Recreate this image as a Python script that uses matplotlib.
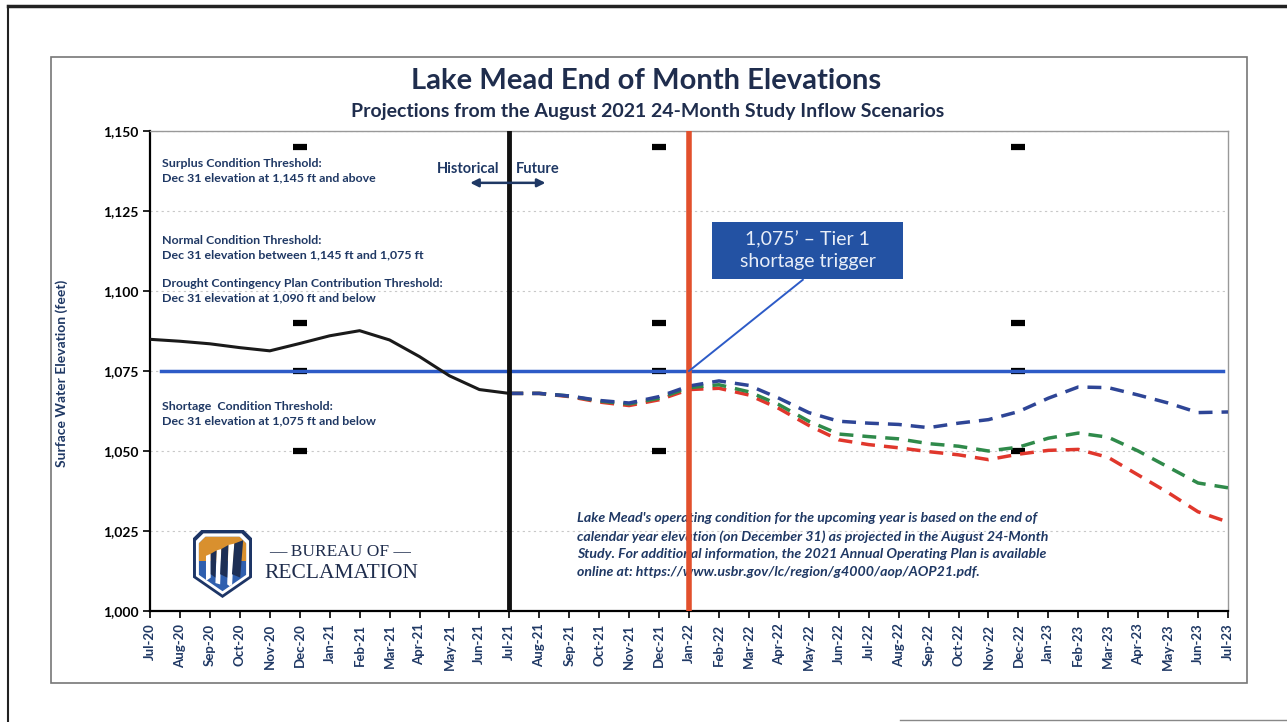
import numpy as np
import pandas as pd
import matplotlib
matplotlib.use("Agg")
import matplotlib.pyplot as plt
from matplotlib.patches import Rectangle, Polygon

plt.rcParams['font.family'] = ['Lato', 'DejaVu Sans']

# data
months = list(pd.date_range('2020-07-01', '2023-07-01', freq='MS').strftime('%b-%y'))

historical = [1084.9, 1084.3, 1083.5, 1082.3, 1081.3, 1083.6, 1086.0,
              1087.6, 1084.7, 1079.5, 1073.5, 1069.2, 1068.0]

prob_max = [1068.0, 1068.0, 1067.2, 1065.8, 1065.0, 1067.0, 1070.3, 1071.9,
            1070.5, 1066.5, 1062.0, 1059.3, 1058.7, 1058.3, 1057.3, 1058.7,
            1059.8, 1062.3, 1066.5, 1070.0, 1069.8, 1067.5, 1065.0, 1062.0, 1062.2]
most_prob = [1068.0, 1068.0, 1067.2, 1065.6, 1064.7, 1066.5, 1069.8, 1070.7,
             1068.5, 1064.5, 1059.3, 1055.3, 1054.5, 1053.8, 1052.3, 1051.5,
             1050.0, 1051.2, 1054.0, 1055.6, 1054.3, 1050.0, 1045.0, 1040.0, 1038.5]
prob_min = [1068.0, 1068.0, 1067.0, 1065.3, 1064.2, 1066.0, 1069.2, 1069.6,
            1067.5, 1063.3, 1058.0, 1053.5, 1052.0, 1051.0, 1049.8, 1048.8,
            1047.3, 1049.0, 1050.2, 1050.5, 1048.0, 1042.5, 1037.0, 1031.0, 1027.8]

tier1 = 1075
threshold_levels = [1145, 1090, 1075, 1050]
december_idx = [5, 17, 29]
now_idx = 12       # Jul-21, historical / future split
jan22_idx = 18

yticks = [1000, 1025, 1050, 1075, 1100, 1125, 1150]

navy = '#1f3864'
W, H = 1287, 722


def px(x, y):
    # pixel position -> figure fraction
    return x / W, 1 - y / H


fig = plt.figure(figsize=(12.87, 7.22), dpi=100)

# page frame bits
fig.add_artist(plt.Line2D([8 / W, 1], [1 - 6 / H] * 2, color='#222', lw=2.5))
fig.add_artist(plt.Line2D([8 / W] * 2, [0, 1 - 6 / H], color='#222', lw=1.5))
fig.add_artist(plt.Line2D([900 / W, 1], [1 - 720 / H] * 2, color='#888', lw=1))
x0, y0 = px(51, 683)
fig.add_artist(Rectangle((x0, y0), (1247 - 51) / W, (683 - 57) / H,
                         transform=fig.transFigure, fill=False, ec='#777', lw=1.2))

fig.text(*px(646, 81), 'Lake Mead End of Month Elevations', ha='center', va='center',
         fontsize=21, fontweight='bold', color='#1f2d4d')
fig.text(*px(648, 111), 'Projections from the August 2021 24-Month Study Inflow Scenarios',
         ha='center', va='center', fontsize=14, fontweight='bold', color='#1f2d4d')
fig.text(*px(62, 373), 'Surface Water Elevation (feet)', rotation=90, ha='center',
         va='center', fontsize=10, fontweight='bold', color=navy)

ax = fig.add_axes([150 / W, 1 - 611 / H, (1228 - 150) / W, (611 - 131) / H])
x_all = np.arange(len(months))

ax.set_xlim(0, len(months) - 1)
ax.set_ylim(1000, 1150)
ax.set_yticks(yticks)
ax.set_yticklabels([f'{v:,}' for v in yticks], fontsize=10, fontweight='bold')
ax.set_xticks(x_all)
ax.set_xticklabels(months, rotation=90, fontsize=9.5, fontweight='bold', color=navy)
ax.tick_params(axis='both', direction='out', length=5, width=1.2)
ax.tick_params(axis='x', pad=4)
ax.tick_params(axis='y', pad=3)
ax.yaxis.grid(True, color='#c8c8c8', linestyle=(0, (2, 3)), lw=0.8)
ax.set_axisbelow(True)
for s in ['left', 'bottom']:
    ax.spines[s].set_color('black')
    ax.spines[s].set_linewidth(1.6)
for s in ['top', 'right']:
    ax.spines[s].set_color('#999')
    ax.spines[s].set_linewidth(1.0)

# december threshold markers
for d in december_idx:
    ax.plot([d] * len(threshold_levels), threshold_levels, linestyle='none',
            marker='_', ms=10, mew=4.5, color='black', zorder=2)

ax.axhline(tier1, xmin=0.01, xmax=0.995, color='#2d5bc7', lw=2.5, zorder=3)

fut_x = x_all[now_idx:]
dash = (0, (4, 2.6))
ax.plot(fut_x, prob_min, color='#e0372c', lw=2.5, ls=dash, zorder=4)
ax.plot(fut_x, most_prob, color='#2f8a4a', lw=2.5, ls=dash, zorder=4)
ax.plot(fut_x, prob_max, color='#2e4596', lw=2.5, ls=dash, zorder=4)
ax.plot(x_all[:now_idx + 1], historical, color='#1a1a1a', lw=2.2, zorder=5)

ax.axvline(now_idx, color='#111', lw=3.5, zorder=6)
ax.axvline(jan22_idx, color='#e2502c', lw=4, zorder=7)

# threshold notes
notes = [
    (1137.5, 'Surplus Condition Threshold:\nDec 31 elevation at 1,145 ft and above'),
    (1113.6, 'Normal Condition Threshold:\nDec 31 elevation between 1,145 ft and 1,075 ft'),
    (1100.2, 'Drought Contingency Plan Contribution Threshold:\nDec 31 elevation at 1,090 ft and below'),
    (1061.6, 'Shortage  Condition Threshold:\nDec 31 elevation at 1,075 ft and below'),
]
for yv, txt in notes:
    ax.text(0.4, yv, txt, ha='left', va='center', fontsize=8.9, fontweight='bold',
            color=navy, linespacing=1.4, zorder=5)

ax.text(11.66, 1138.1, 'Historical', ha='right', va='center', fontsize=10.5,
        fontweight='bold', color=navy)
ax.text(12.22, 1138.1, 'Future', ha='left', va='center', fontsize=10.5,
        fontweight='bold', color=navy)
ax.annotate('', xy=(13.3, 1133.8), xytext=(10.6, 1133.8),
            arrowprops=dict(arrowstyle='<|-|>', color=navy, lw=1.8, mutation_scale=12),
            zorder=8)

# tier 1 callout
ax.add_patch(Rectangle((18.77, 1103.75), 6.38, 17.8, fc='#2352a3', ec='none', zorder=9))
ax.text(21.96, 1112.6, '1,075\u2019 \u2013 Tier 1\nshortage trigger', ha='center',
        va='center', fontsize=14, color='#e8eef8', linespacing=1.35, zorder=10)
ax.plot([21.8, jan22_idx], [1103.5, tier1], color='#2d5bc7', lw=1.4, zorder=8)

ax.text(14.26, 1020.6,
        "Lake Mead's operating condition for the upcoming year is based on the end of\n"
        "calendar year elevation (on December 31) as projected in the August 24-Month\n"
        "Study. For additional information, the 2021 Annual Operating Plan is available\n"
        "online at: https://www.usbr.gov/lc/region/g4000/aop/AOP21.pdf.",
        ha='left', va='center', fontsize=10.2, fontweight='bold', style='italic',
        color=navy, linespacing=1.55, zorder=5)

# reclamation logo
lx, ly = px(193, 598)
lg = fig.add_axes([lx, ly, 59 / W, 68 / H])
lg.set_xlim(0, 1)
lg.set_ylim(0, 1)
lg.axis('off')
shield = np.array([(0.14, 1), (0.86, 1), (1, 0.88), (1, 0.3), (0.5, 0),
                   (0, 0.3), (0, 0.88)])


def shrink(p, k):
    return (p - 0.5) * k + 0.5


lg.add_patch(Polygon(shield, fc='#1d3566', ec='none'))
lg.add_patch(Polygon(shrink(shield, 0.9), fc='white', ec='none'))
inner = Polygon(shrink(shield, 0.8), fc='#2f5fae', ec='none')
lg.add_patch(inner)
top = Rectangle((0, 0.55), 1, 0.5, fc='#d9902e', ec='none')
lg.add_patch(top)
top.set_clip_path(inner)
stripes = [[(0.22, 0.62), (0.3, 0.65), (0.3, 0.3), (0.22, 0.25)],
           [(0.4, 0.7), (0.48, 0.72), (0.46, 0.2), (0.38, 0.22)],
           [(0.6, 0.78), (0.7, 0.8), (0.66, 0.15), (0.58, 0.2)]]
for s in stripes:
    p = Polygon(s, fc='white', ec='none')
    lg.add_patch(p)
    p.set_clip_path(inner)
darks = [[(0.3, 0.65), (0.4, 0.7), (0.38, 0.3), (0.3, 0.35)],
         [(0.48, 0.72), (0.6, 0.78), (0.58, 0.3), (0.46, 0.35)],
         [(0.7, 0.8), (0.85, 0.85), (0.8, 0.3), (0.66, 0.35)]]
for s in darks:
    p = Polygon(s, fc='#1d2f55', ec='none')
    lg.add_patch(p)
    p.set_clip_path(inner)

fig.text(*px(340, 552), '\u2014 BUREAU OF \u2014', ha='center', va='center',
         fontsize=12.5, family='Liberation Serif', color='#1f2d4d')
fig.text(*px(341, 573), 'RECLAMATION', ha='center', va='center',
         fontsize=15.5, family='Liberation Serif', color='#1f2d4d')

fig.savefig('out.png', dpi=100, facecolor='white')
